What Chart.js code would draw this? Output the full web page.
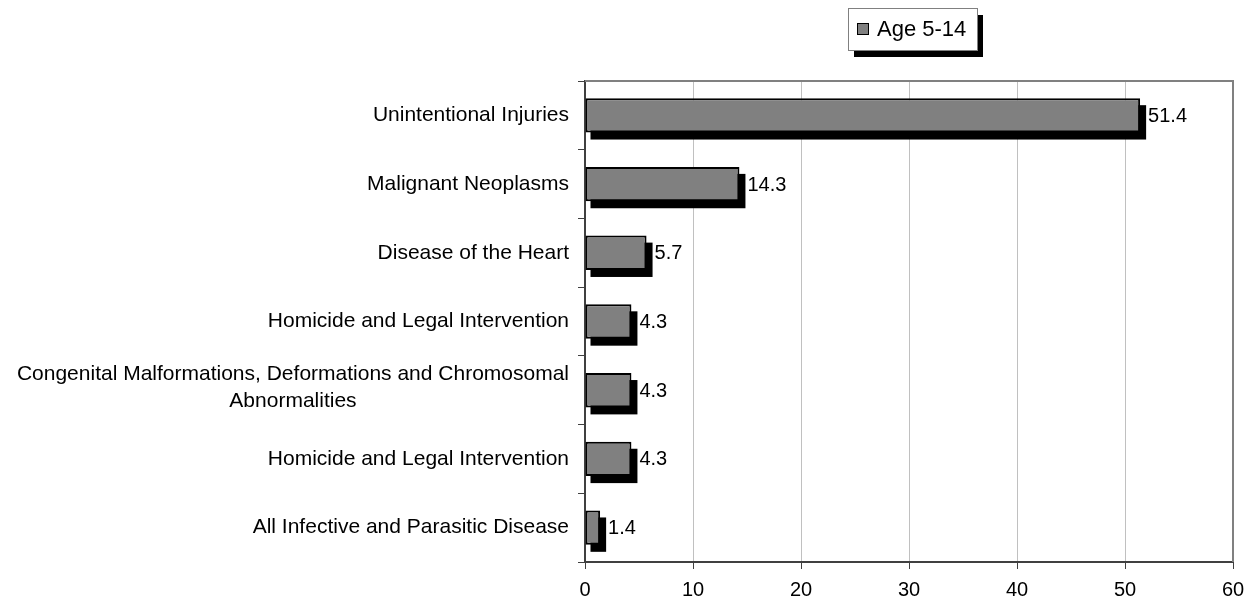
<!DOCTYPE html>
<html>
<head>
<meta charset="utf-8">
<script src="https://cdn.jsdelivr.net/npm/chart.js@4/dist/chart.umd.min.js"></script>
<style>
  body { margin: 0; background: #fff; }
  #wrap { width: 1257px; height: 606px; }
</style>
</head>
<body>
<div id="wrap"><canvas id="chart" width="1257" height="606"></canvas></div>
<script>
// chart data
var causes = [
  'Unintentional Injuries',
  'Malignant Neoplasms',
  'Disease of the Heart',
  'Homicide and Legal Intervention',
  ['Congenital Malformations, Deformations and Chromosomal', 'Abnormalities'],
  'Homicide and Legal Intervention',
  'All Infective and Parasitic Disease'
];
var rates = [51.4, 14.3, 5.7, 4.3, 4.3, 4.3, 1.4];
var seriesName = 'Age 5-14';
var xTicks = [0, 10, 20, 30, 40, 50, 60];

var FONT = "'Liberation Sans', Arial, sans-serif";

// black drop shadow behind each bar
var barShadow = {
  id: 'barShadow',
  beforeDatasetsDraw: function(chart) {
    var ctx = chart.ctx;
    ctx.save();
    ctx.fillStyle = '#000';
    chart.getDatasetMeta(0).data.forEach(function(bar) {
      var h = bar.height;
      var x0 = bar.base, x1 = bar.x;
      ctx.fillRect(x0 + 5, bar.y - h / 2 + 7, x1 - x0 + 1, h);
    });
    ctx.restore();
  }
};

// value labels, category labels, plot frame and legend
var extras = {
  id: 'extras',
  afterDraw: function(chart) {
    var ctx = chart.ctx;
    var area = chart.chartArea;
    ctx.save();

    // top and right frame
    ctx.strokeStyle = '#808080';
    ctx.lineWidth = 2;
    ctx.beginPath();
    ctx.moveTo(area.left, area.top);
    ctx.lineTo(area.right, area.top);
    ctx.lineTo(area.right, area.bottom);
    ctx.stroke();

    // values at bar ends
    ctx.fillStyle = '#000';
    ctx.font = '20px ' + FONT;
    ctx.textAlign = 'left';
    ctx.textBaseline = 'middle';
    chart.getDatasetMeta(0).data.forEach(function(bar, i) {
      ctx.fillText(rates[i].toFixed(1), bar.x + 8, bar.y + 1);
    });

    // category labels: block right aligned, lines centred in block
    var yScale = chart.scales.y;
    ctx.font = '21px ' + FONT;
    ctx.textAlign = 'center';
    var lineH = 27;
    causes.forEach(function(lab, i) {
      var lines = Array.isArray(lab) ? lab : [lab];
      var w = 0;
      lines.forEach(function(l) { w = Math.max(w, ctx.measureText(l).width); });
      var cx = yScale.right - 16 - w / 2;
      var cy = yScale.getPixelForTick(i) - (lines.length - 1) * (lineH / 2 + 3);
      lines.forEach(function(l, k) {
        ctx.fillText(l, cx, cy + k * lineH);
      });
    });

    // legend box with shadow
    var lx = 848, ly = 8, lw = 129, lh = 42;
    ctx.fillStyle = '#000';
    ctx.fillRect(lx + 6, ly + 7, lw, lh);
    ctx.fillStyle = '#fff';
    ctx.fillRect(lx, ly, lw, lh);
    ctx.strokeStyle = '#808080';
    ctx.lineWidth = 1;
    ctx.strokeRect(lx + 0.5, ly + 0.5, lw, lh);
    ctx.fillStyle = chart.data.datasets[0].backgroundColor;
    ctx.fillRect(lx + 9, ly + 15, 12, 12);
    ctx.strokeStyle = '#000';
    ctx.strokeRect(lx + 9.5, ly + 15.5, 11, 11);
    ctx.fillStyle = '#000';
    ctx.font = '22px ' + FONT;
    ctx.textAlign = 'left';
    ctx.fillText(chart.data.datasets[0].label, lx + 29, ly + 22);

    ctx.restore();
  }
};

new Chart(document.getElementById('chart'), {
  type: 'bar',
  data: {
    labels: causes,
    datasets: [{
      label: seriesName,
      data: rates,
      backgroundColor: '#808080',
      borderColor: '#000',
      borderWidth: 2,
      borderSkipped: false,
      categoryPercentage: 1.0,
      barPercentage: 0.5
    }]
  },
  options: {
    indexAxis: 'y',
    responsive: false,
    animation: false,
    layout: { padding: { top: 81, right: 24, left: 0, bottom: 0 } },
    plugins: {
      legend: { display: false },
      tooltip: { enabled: false }
    },
    scales: {
      x: {
        min: xTicks[0],
        max: xTicks[xTicks.length - 1],
        afterBuildTicks: function(scale) {
          scale.ticks = xTicks.map(function(v) { return { value: v }; });
        },
        afterFit: function(scale) { scale.height = 44; },
        grid: { color: '#c0c0c0', tickColor: '#404040', tickLength: 7, lineWidth: 1 },
        border: { color: '#404040', width: 2 },
        ticks: { color: '#000', font: { family: FONT, size: 20 }, padding: 9, maxRotation: 0 }
      },
      y: {
        afterFit: function(scale) { scale.width = 585; },
        grid: { offset: true, drawOnChartArea: false, tickColor: '#404040', tickLength: 7 },
        border: { color: '#404040', width: 2 },
        ticks: { display: false }
      }
    }
  },
  plugins: [barShadow, extras]
});
</script>
</body>
</html>
